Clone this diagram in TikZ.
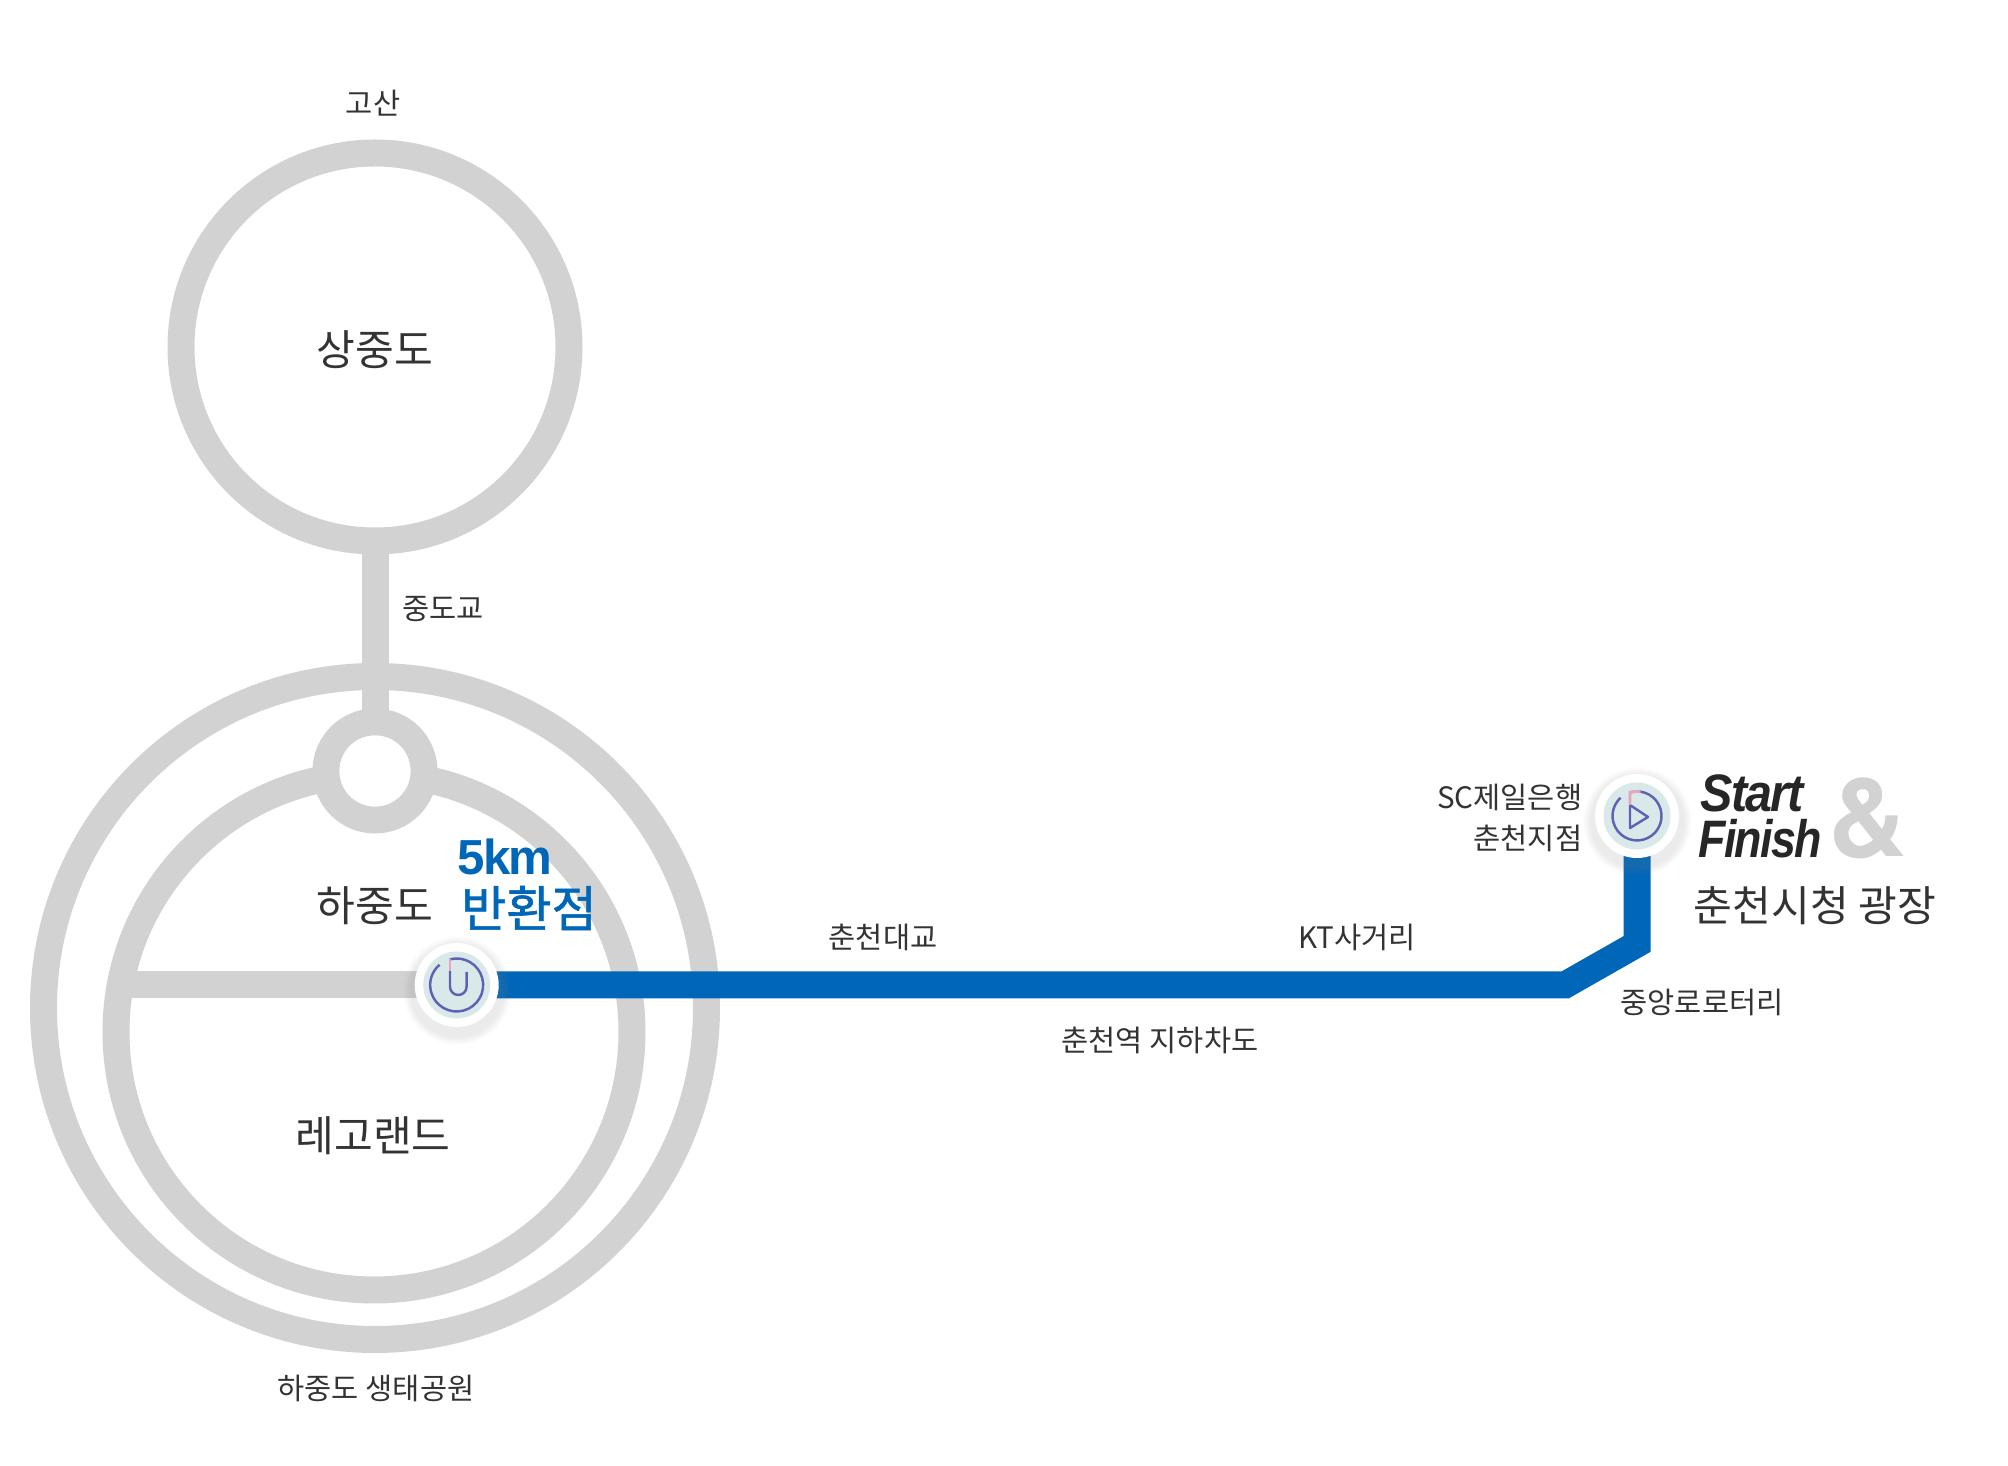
\documentclass[tikz,border=0pt]{standalone}
\usepackage{fontspec}
\setmainfont{Noto Sans CJK KR}
\newfontfamily\headfont[LetterSpace=-4]{Liberation Sans}
\newfontfamily\andfont{TeX Gyre Heros}
\newfontfamily\markfont[FakeBold=1.2]{Noto Sans CJK KR}
\usetikzlibrary{shadows}
\definecolor{ringgray}{HTML}{D2D2D2}
\definecolor{routeblue}{HTML}{0066B8}
\definecolor{padteal}{HTML}{D9E9E9}
\definecolor{iconblue}{HTML}{5F62B4}
\definecolor{iconpink}{HTML}{E8A4C0}
\definecolor{labelgray}{HTML}{333333}
\tikzset{
    ring/.style={circle, draw=ringgray, line width=.27cm, outer sep=0pt, inner sep=0pt},
    track/.style={draw=ringgray, line width=.27cm},
    route/.style={draw=routeblue, line width=.27cm, line join=miter},
    pad/.style={circle, fill=white, minimum size=.84cm, inner sep=0pt,
        circular drop shadow={shadow xshift=0cm, shadow yshift=-.04cm, shadow scale=1.3, opacity=.16}},
    padin/.style={circle, fill=padteal, minimum size=.67cm, inner sep=0pt},
    icon/.style={draw=iconblue, line width=.7pt},
    tick/.style={draw=iconpink, line width=.8pt},
    small/.style={font=\fontsize{8.4}{11.7}\selectfont, text=labelgray, inner sep=0pt},
    big/.style={font=\fontsize{12}{14}\selectfont, text=labelgray, inner sep=0pt}
}
\begin{document}
\begin{tikzpicture}
  \useasboundingbox (0,0) rectangle (20.08,14.66);
  % islands
  \node (outer) [ring, minimum size=6.63cm] at (3.75,4.58) {};
  \node (inner) [ring, minimum size=5.16cm] at (3.74,4.34) {};
  \node (upper) [ring, minimum size=3.88cm] at (3.75,11.19) {};
  \node (hub) [ring, fill=white, minimum size=.98cm] at (3.75,6.95) {};
  \draw [track] (upper.south) -- (hub.north);
  \node (hubfill) [circle, fill=white, minimum size=.71cm, inner sep=0pt] at (hub) {};
  % route
  \coordinate (turn) at (4.567,4.81);
  \coordinate (start) at (16.37,6.50);
  \coordinate (west) at (1.15,4.81);
  \coordinate (bendA) at (15.65,4.81);
  \coordinate (bendB) at (16.37,5.22);
  \draw [track] (west) -- (turn);
  \draw [route] (turn) -- (bendA) -- (bendB) -- (start);
  \node (turnA) [pad] at (turn) {};
  \node (startA) [pad] at (start) {};
  \node (turnB) [padin] at (turn) {};
  \node (startB) [padin] at (start) {};
  % icons
  \draw [icon] (4.498,5.066) arc (105:-230:.265cm);
  \draw [icon] (4.50,4.95) -- (4.50,4.793) arc (180:360:.083cm) -- (4.667,4.94);
  \draw [tick] (4.50,5.07) -- (4.50,4.95);
  \draw [icon] (16.307,6.737) arc (105:-228:.245cm);
  \draw [icon, line join=round] (16.30,6.61) -- (16.48,6.49) -- (16.30,6.38) -- cycle;
  \draw [tick] (16.30,6.61) -- (16.30,6.737) arc (105:80:.245cm);
  % labels
  \node (l1) [small] at (3.73,13.63) {고산};
  \node (l2) [big] at (3.75,11.16) {상중도};
  \node (l3) [small] at (4.43,8.57) {중도교};
  \node (l4) [big] at (3.75,5.60) {하중도};
  \node (l5) [font=\headfont\bfseries\fontsize{14}{16}\selectfont, text=routeblue, inner sep=0pt] at (5.05,6.09) {5km};
  \node (l6) [font=\markfont\fontsize{14}{16}\selectfont, text=routeblue, inner sep=0pt] at (5.29,5.58) {반환점};
  \node (l7) [big] at (3.73,3.30) {레고랜드};
  \node (l8) [small] at (3.76,0.78) {하중도 생태공원};
  \node (l9) [small] at (8.83,5.29) {춘천대교};
  \node (l10) [small] at (13.57,5.29) {KT사거리};
  \node (l11) [small] at (11.60,4.26) {춘천역 지하차도};
  \node (l12) [small] at (17.02,4.64) {중앙로로터리};
  \node (l13) [small, align=right, anchor=east] at (15.83,6.48) {SC제일은행\\춘천지점};
  \node (l14) [font=\headfont\bfseries\itshape\fontsize{15}{17}\selectfont, text=black!85, inner sep=0pt, anchor=west, xscale=.92, transform shape] at (17.00,6.73) {Start};
  \node (l15) [font=\headfont\bfseries\itshape\fontsize{15}{17}\selectfont, text=black!85, inner sep=0pt, anchor=west, xscale=.85, transform shape] at (16.98,6.27) {Finish};
  \node (l16) [font=\andfont\bfseries\fontsize{31}{34}\selectfont, text=ringgray, inner sep=0pt] at (18.68,6.48) {\&};
  \node (l17) [big] at (18.15,5.60) {춘천시청 광장};
\end{tikzpicture}
\end{document}
